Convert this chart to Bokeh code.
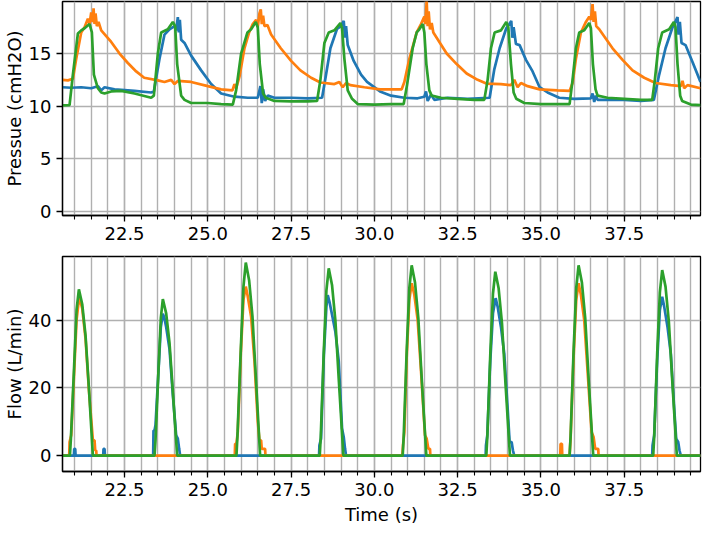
from bokeh.plotting import figure
from bokeh.layouts import column
from bokeh.models import Range1d, SingleIntervalTicker, PrintfTickFormatter
from bokeh.embed import file_html
from bokeh.resources import INLINE

# ---------------- data ----------------
x_tick_interval = 2.5
pressure_ticks = 5
flow_ticks = 20

# Pressure (cmH2O) - blue series
pb_t = [20.64, 20.9, 21.2, 21.5, 21.7, 21.8, 21.9, 22.2, 22.8, 23.3, 23.38, 23.55, 23.7, 23.85, 24.0,
        24.05, 24.1, 24.13, 24.16, 24.2, 24.3, 24.5, 24.8, 25.1, 25.4, 25.8, 26.2, 26.5, 26.58, 26.62,
        26.66, 26.72, 26.8, 27.0, 27.5, 28.0, 28.43, 28.55, 28.68, 28.88, 29.0, 29.08, 29.12, 29.15,
        29.2, 29.38, 29.6, 29.78, 30.17, 30.5, 30.9, 31.3, 31.5, 31.55, 31.6, 31.7, 31.8, 32.2, 32.8,
        33.46, 33.6, 33.76, 33.96, 34.05, 34.11, 34.14, 34.18, 34.25, 34.36, 34.55, 34.75, 34.96,
        35.2, 35.55, 36.0, 36.5, 36.55, 36.6, 36.65, 36.7, 37.0, 37.5, 38.0, 38.39, 38.55, 38.74,
        38.94, 39.1, 39.13, 39.17, 39.22, 39.34, 39.55, 39.79]
pb_v = [11.8, 11.75, 11.8, 11.7, 11.9, 11.5, 11.8, 11.6, 11.45, 11.3, 11.4, 14.5, 16.8, 17.3, 17.6,
        17.2, 18.45, 17.0, 18.2, 16.3, 16.0, 14.8, 13.4, 12.1, 11.2, 10.9, 10.8, 10.8, 11.9, 10.3,
        11.6, 10.5, 11.0, 10.8, 10.8, 10.75, 10.8, 13.0, 15.5, 17.35, 17.6, 18.1, 16.5, 17.6,
        15.8, 14.3, 13.0, 12.3, 11.4, 11.0, 10.8, 10.75, 10.9, 11.4, 10.5, 11.1, 10.6, 10.8, 10.7,
        10.8, 13.5, 15.5, 17.4, 17.8, 18.1, 16.5, 17.5, 15.9, 15.8, 14.4, 13.3, 11.8,
        11.3, 10.8, 10.7, 10.75, 11.2, 10.4, 11.0, 10.6, 10.6, 10.6, 10.5, 10.6, 13.0, 15.5,
        17.4, 18.45, 16.8, 18.0, 16.0, 15.8, 14.2, 12.3]

# Pressure - orange series
po_t = [20.64, 20.8, 20.95, 21.05, 21.2, 21.3, 21.4, 21.45, 21.5, 21.55, 21.57, 21.6, 21.63, 21.67,
        21.72, 21.8, 22.1, 22.35, 22.6, 22.85, 23.09, 23.5, 23.7, 23.9, 24.0, 24.1, 24.5, 25.0, 25.4,
        25.74, 25.8, 25.85, 25.95, 26.1, 26.24, 26.35, 26.45, 26.5, 26.55, 26.59, 26.62, 26.66, 26.7,
        26.79, 26.9, 27.19, 27.5, 27.78, 28.1, 28.38, 28.8, 28.95, 29.05, 29.15, 29.28, 29.7, 30.17,
        30.5, 30.82, 30.9, 31.05, 31.27, 31.4, 31.5, 31.53, 31.57, 31.6, 31.63, 31.67, 31.72, 31.77,
        32.17, 32.47, 32.77, 33.1, 33.36, 33.8, 34.1, 34.2, 34.3, 34.4, 34.6, 34.96, 35.5, 35.86,
        35.95, 36.05, 36.2, 36.35, 36.45, 36.5, 36.55, 36.58, 36.62, 36.66, 36.75, 37.15, 37.45,
        37.75, 38.1, 38.44, 38.9, 39.2, 39.25, 39.3, 39.4, 39.79]
po_v = [12.5, 12.45, 12.6, 14.5, 17.0, 17.5, 18.3, 17.8, 18.9, 18.0, 19.3, 17.8, 18.8, 17.6,
        18.0, 17.2, 16.1, 15.0, 14.1, 13.3, 12.7, 12.45, 12.3, 12.5, 12.1, 12.4, 12.3, 11.9, 11.6,
        11.5, 12.1, 11.7, 12.8, 15.5, 17.0, 17.8, 18.2, 17.5, 18.8, 19.2, 17.8, 18.6, 17.6,
        17.7, 16.8, 15.5, 14.3, 13.4, 12.7, 12.25, 12.1, 12.3, 11.8, 12.2, 12.0, 11.8, 11.6,
        11.6, 11.6, 12.3, 14.5, 17.0, 17.8, 18.5, 17.8, 20.0, 17.6, 19.0, 17.3, 17.9, 17.0,
        15.0, 14.0, 13.1, 12.5, 12.15, 12.1, 12.0, 12.5, 11.8, 12.2, 11.9, 11.6, 11.5, 11.45,
        12.2, 14.5, 17.0, 18.0, 18.5, 18.2, 19.7, 18.0, 19.0, 17.6, 17.3, 15.5, 14.4,
        13.4, 12.7, 12.2, 12.0, 11.9, 12.4, 11.7, 12.0, 11.7]

# Pressure - green series
pg_t = [20.64, 20.85, 20.95, 21.1, 21.2, 21.3, 21.45, 21.52, 21.58, 21.7, 21.8, 21.9, 22.1, 22.4,
        22.8, 23.3, 23.38, 23.5, 23.6, 23.8, 23.95, 24.02, 24.08, 24.2, 24.3, 24.5, 25.0, 25.4,
        25.75, 25.85, 26.0, 26.19, 26.3, 26.44, 26.5, 26.56, 26.66, 26.74, 27.0, 27.5, 28.0, 28.28,
        28.38, 28.5, 28.63, 28.8, 28.98, 29.03, 29.1, 29.2, 29.33, 29.5, 30.0, 30.5, 30.88, 30.98,
        31.15, 31.27, 31.35, 31.45, 31.5, 31.56, 31.65, 31.72, 32.0, 32.5, 33.0, 33.3, 33.4, 33.5,
        33.61, 33.8, 33.96, 34.02, 34.1, 34.18, 34.26, 34.5, 35.0, 35.5, 35.86, 35.95, 36.05, 36.15,
        36.3, 36.45, 36.5, 36.56, 36.64, 36.7, 37.0, 37.5, 38.0, 38.34, 38.42, 38.52, 38.64, 38.85,
        38.99, 39.04, 39.1, 39.18, 39.24, 39.5, 39.79]
pg_v = [10.07, 10.1, 13.0, 16.9, 17.2, 17.4, 17.8, 17.0, 13.0, 11.7, 11.3, 11.2, 11.4, 11.45,
        11.2, 10.8, 11.0, 15.0, 17.0, 17.3, 18.0, 17.6, 14.0, 11.0, 10.6, 10.3, 10.3, 10.2,
        10.15, 11.5, 15.0, 17.0, 17.3, 18.0, 17.5, 14.0, 11.2, 10.8, 10.5, 10.45, 10.45, 10.5,
        12.5, 16.0, 17.0, 17.2, 17.9, 17.4, 14.5, 11.5, 10.7, 10.2, 10.15, 10.2, 10.2, 12.0,
        15.5, 17.0, 17.3, 17.8, 17.0, 14.0, 11.5, 11.0, 10.8, 10.7, 10.6, 10.6, 12.5, 15.5,
        17.0, 17.2, 18.0, 17.5, 14.0, 11.3, 10.7, 10.3, 10.2, 10.2, 10.2, 12.5, 15.5, 17.0,
        17.2, 17.9, 17.4, 14.0, 11.6, 11.0, 10.8, 10.7, 10.6, 10.6, 12.5, 15.5, 17.0, 17.3,
        18.0, 17.5, 14.0, 11.0, 10.5, 10.15, 10.1]

# Flow (L/min) - blue series
fb_t = [20.64, 20.98, 20.99, 21.02, 21.03, 21.86, 21.87, 21.9, 21.91,
        23.36, 23.37, 23.4, 23.43, 23.52, 23.59, 23.65, 23.7, 23.75, 23.85, 23.95, 24.05, 24.1, 24.14, 24.17,
        28.34, 28.35, 28.4, 28.48, 28.56, 28.6, 28.65, 28.73, 28.83, 28.93, 29.03, 29.08, 29.12, 29.15,
        33.34, 33.35, 33.39, 33.48, 33.56, 33.64, 33.7, 33.8, 33.9, 34.0, 34.06, 34.12, 34.16, 34.2,
        38.34, 38.35, 38.4, 38.49, 38.57, 38.64, 38.7, 38.8, 38.9, 39.0, 39.06, 39.12, 39.16, 39.2, 39.79]
fb_v = [0, 0, 2, 2, 0, 0, 2, 2, 0,
        0, 7.4, 7.4, 9, 25, 38, 41.9, 40.5, 38, 31.5, 18, 6, 5, 2, 0,
        0, 3, 5, 29, 44, 47.4, 45.5, 41.6, 36.5, 28, 8, 5.5, 2, 0,
        0, 3, 6, 28, 42, 46.5, 44, 38, 30, 14, 4, 4, 1.5, 0,
        0, 3, 6, 28, 43, 46.9, 44, 38, 30, 14, 5, 4, 1.5, 0, 0]

# Flow - orange series
fo_t = [20.64, 20.84, 20.85, 20.9, 20.99, 21.06, 21.14, 21.23, 21.33, 21.43, 21.55, 21.6, 21.62, 21.65, 21.66,
        25.81, 25.82, 25.86, 25.9, 25.99, 26.07, 26.14, 26.2, 26.3, 26.4, 26.5, 26.55, 26.6, 26.62, 26.72, 26.73,
        30.84, 30.86, 30.9, 30.97, 31.05, 31.12, 31.2, 31.3, 31.4, 31.52, 31.57, 31.62, 31.67, 31.68,
        35.58, 35.59, 35.63, 35.64,
        35.86, 35.89, 35.98, 36.06, 36.13, 36.2, 36.3, 36.4, 36.52, 36.58, 36.63, 36.72, 36.73, 39.79]
fo_v = [0, 0, 4, 6, 25, 40, 46.9, 43.5, 34.5, 19.5, 4.5, 4.5, 1.5, 1.5, 0,
        0, 3.5, 3.5, 7, 30, 46, 49.9, 47, 41, 28, 10, 4.5, 4.5, 2, 2, 0,
        0, 3, 7, 29, 46, 50.9, 47.5, 40, 25, 6, 5, 2, 2, 0,
        0, 3.5, 3.5, 0,
        0, 5, 29, 46, 50.9, 47.5, 40, 25, 7, 5.5, 2, 2, 0, 0]

# Flow - green series
fg_t = [20.64, 20.86, 20.89, 20.99, 21.06, 21.13, 21.23, 21.33, 21.43, 21.55,
        23.4, 23.43, 23.52, 23.59, 23.65, 23.75, 23.85, 23.95, 24.08,
        25.86, 25.89, 25.99, 26.07, 26.14, 26.24, 26.34, 26.44, 26.57,
        28.36, 28.39, 28.48, 28.56, 28.63, 28.73, 28.83, 28.93, 29.07,
        30.85, 30.88, 30.97, 31.05, 31.12, 31.22, 31.32, 31.42, 31.56,
        33.36, 33.39, 33.48, 33.56, 33.63, 33.73, 33.83, 33.93, 34.07,
        35.86, 35.89, 35.98, 36.06, 36.13, 36.23, 36.33, 36.43, 36.57,
        38.37, 38.40, 38.49, 38.57, 38.64, 38.74, 38.84, 38.94, 39.08, 39.79]
fg_v = [0, 0, 5, 27, 43, 49.1, 44.7, 35.4, 20.1, 0,
        0, 4.6, 25.4, 40.7, 46.2, 42.0, 33.3, 18.9, 0,
        0, 5.9, 31.3, 49.9, 57.0, 51.8, 41.1, 23.5, 0,
        0, 5.5, 30.4, 48.7, 55.3, 50.3, 39.8, 22.7, 0,
        0, 5.6, 30.9, 49.5, 56.2, 51.1, 40.5, 23.0, 0,
        0, 5.4, 29.9, 47.8, 54.3, 49.4, 39.1, 22.3, 0,
        0, 5.6, 30.9, 49.5, 56.2, 51.1, 40.5, 23.0, 0,
        0, 5.5, 30.1, 48.2, 54.8, 49.9, 39.5, 22.5, 0, 0]

# ---------------- styling ----------------
BLUE, ORANGE, GREEN = "#1f77b4", "#ff7f0e", "#2ca02c"
FONT = "DejaVu Sans"
GRID = "#b0b0b0"
LW = 2.7


def style(p, y_interval, ylabel, xlabel=None):
    p.outline_line_color = "black"
    p.outline_line_width = 1.3
    p.xaxis.ticker = SingleIntervalTicker(interval=x_tick_interval, num_minor_ticks=5)
    p.yaxis.ticker = SingleIntervalTicker(interval=y_interval, num_minor_ticks=0)
    p.xaxis.formatter = PrintfTickFormatter(format="%.1f")
    for ax in (p.xaxis[0], p.yaxis[0]):
        ax.axis_line_color = "black"
        ax.axis_line_width = 1.3
        ax.major_tick_line_color = "black"
        ax.major_tick_line_width = 1.3
        ax.minor_tick_line_color = "black"
        ax.minor_tick_line_width = 1.1
        ax.major_tick_out = 6
        ax.major_tick_in = 0
        ax.minor_tick_out = 4
        ax.minor_tick_in = 0
        ax.major_label_text_font = FONT
        ax.major_label_text_font_size = "18px"
        ax.major_label_text_color = "black"
        ax.major_label_standoff = 5
        ax.axis_label_text_font = FONT
        ax.axis_label_text_font_size = "18px"
        ax.axis_label_text_font_style = "normal"
        ax.axis_label_text_color = "black"
        ax.axis_label_standoff = 1
    p.xaxis.axis_label_standoff = 5
    p.yaxis.axis_label = ylabel
    if xlabel:
        p.xaxis.axis_label = xlabel
    p.xgrid.grid_line_color = GRID
    p.xgrid.grid_line_width = 1.4
    p.xgrid.minor_grid_line_color = GRID
    p.xgrid.minor_grid_line_width = 1.4
    p.ygrid.grid_line_color = GRID
    p.ygrid.grid_line_width = 1.4
    p.background_fill_color = "white"
    p.border_fill_color = "white"


x_range = Range1d(20.638, 39.79)

p1 = figure(frame_width=638, frame_height=214, x_range=x_range, y_range=Range1d(-0.38, 19.94),
            output_backend="svg", toolbar_location=None,
            min_border_left=0, min_border_right=2, min_border_top=1, min_border_bottom=40)
style(p1, pressure_ticks, "Pressue (cmH2O)")
p1.line(pb_t, pb_v, color=BLUE, line_width=LW)
p1.line(po_t, po_v, color=ORANGE, line_width=LW)
p1.line(pg_t, pg_v, color=GREEN, line_width=LW)

p2 = figure(frame_width=638, frame_height=215, x_range=x_range, y_range=Range1d(-4.7, 58.8),
            output_backend="svg", toolbar_location=None,
            min_border_left=0, min_border_right=2, min_border_top=1, min_border_bottom=0)
style(p2, flow_ticks, "Flow (L/min)", "Time (s)")
p2.line(fb_t, fb_v, color=BLUE, line_width=LW)
p2.line(fo_t, fo_v, color=ORANGE, line_width=LW)
p2.line(fg_t, fg_v, color=GREEN, line_width=LW)

layout = column(p1, p2, spacing=0)
open("out.html", "w").write(file_html(layout, INLINE))
